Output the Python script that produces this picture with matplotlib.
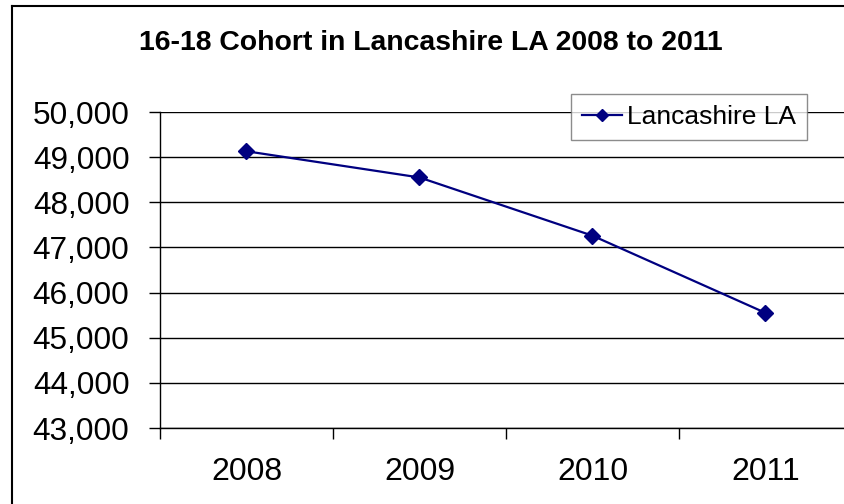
import matplotlib.pyplot as plt
from matplotlib.lines import Line2D
from matplotlib.ticker import FuncFormatter, FixedLocator

plt.rcParams['font.family'] = ['Liberation Sans', 'DejaVu Sans']

years = ["2008", "2009", "2010", "2011"]
cohort = [49130, 48550, 47260, 45550]
series_name = "Lancashire LA"
title = "16-18 Cohort in Lancashire LA 2008 to 2011"

W, H = 845, 504
fig = plt.figure(figsize=(W / 100, H / 100), dpi=100)

# plot area (extends past the right edge like the original crop)
ax = fig.add_axes([160 / W, 1 - 428 / H, (852 - 160) / W, (428 - 112) / H])

x = list(range(len(years)))
ax.plot(x, cohort, color="#000080", lw=1.6, marker="D", ms=8.5, mec="#000080",
        mfc="#000080", label=series_name, clip_on=False, zorder=3)

ax.set_ylim(43000, 50000)
ax.set_yticks(range(43000, 50001, 1000))
ax.yaxis.set_major_formatter(FuncFormatter(lambda v, p: f"{int(v):,}"))
ax.grid(axis="y", color="black", lw=1)

ax.set_xlim(-0.5, len(years) - 0.5)
ax.xaxis.set_major_locator(FixedLocator([i - 0.5 for i in range(len(years) + 1)]))
ax.xaxis.set_minor_locator(FixedLocator(x))
ax.set_xticklabels([])
ax.set_xticklabels(years, minor=True)
ax.tick_params(axis="x", which="major", length=8, width=1, direction="out")
ax.tick_params(axis="x", which="minor", length=0, pad=21, labelsize=23)
ax.tick_params(axis="y", length=8, width=1, direction="out", labelsize=22.7, pad=14)

for s in ["top", "right"]:
    ax.spines[s].set_visible(False)
for s in ["left", "bottom"]:
    ax.spines[s].set_color("black")
    ax.spines[s].set_linewidth(1)

leg = ax.legend(loc="upper left", bbox_to_anchor=(571 / W, 1 - 94 / H),
                bbox_transform=fig.transFigure, borderaxespad=0, fontsize=19,
                frameon=True, fancybox=False, edgecolor="#707070",
                handlelength=1.5, handletextpad=0.2, borderpad=0.42,
                markerscale=0.75)
leg.get_frame().set_linewidth(1)

fig.text(431 / W, 1 - 43 / H, title, ha="center", va="center",
         fontsize=20.4, fontweight="bold")

# chart border (cropped on right and bottom)
fig.add_artist(Line2D([12 / W, 12 / W], [0, 1 - 6 / H], color="black", lw=1.5,
                      transform=fig.transFigure))
fig.add_artist(Line2D([12 / W, 1], [1 - 6 / H, 1 - 6 / H], color="black", lw=1.5,
                      transform=fig.transFigure))

fig.savefig("out.png", dpi=100)
